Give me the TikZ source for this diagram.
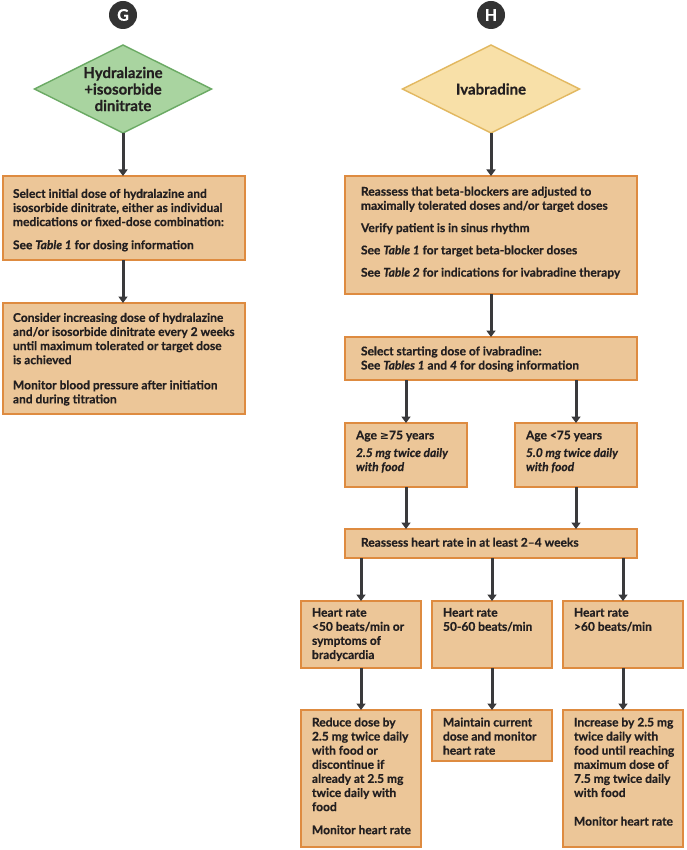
\documentclass[tikz,border=0pt]{standalone}
\usepackage{fontspec}
\setmainfont{Lato}[BoldFeatures={FakeBold=0.5},BoldItalicFeatures={FakeBold=0.5}]
\newfontfamily\symf{DejaVu Sans}
\usetikzlibrary{shapes.geometric,arrows.meta}
\definecolor{boxfill}{RGB}{236,198,152}
\definecolor{boxline}{RGB}{222,139,64}
\definecolor{gfill}{RGB}{169,212,160}
\definecolor{gline}{RGB}{107,170,100}
\definecolor{yfill}{RGB}{248,224,168}
\definecolor{yline}{RGB}{226,184,96}
\definecolor{circ}{RGB}{51,51,51}
\definecolor{arrc}{RGB}{58,58,60}
\definecolor{txt}{RGB}{35,31,32}
% width, height, left pad, top pad, text
\newcommand\bxt[5]{\parbox[c][#2pt][t]{#1pt}{\raggedright\leftskip=#3pt\relax\vspace*{#4pt}\strut#5}}
\newcommand\pg{\\[9pt]}
\begin{document}
\begin{tikzpicture}[x=1pt,y=-1pt,
  font=\fontsize{12}{14.1}\selectfont\bfseries,
  flowbox/.style={draw=boxline,fill=boxfill,line width=1.4pt,inner sep=0pt,outer sep=0pt,anchor=north west,text=txt},
  dia/.style={shape=diamond,inner sep=0pt,outer sep=0pt,line width=1.4pt,minimum width=177pt,minimum height=88pt,aspect=2,align=center,text=txt,font=\fontsize{15}{16.5}\selectfont\bfseries},
  badge/.style={circle,fill=circ,minimum size=28pt,inner sep=0pt,text=white,font=\fontsize{16}{18}\selectfont\bfseries},
  arr/.style={draw=arrc,line width=3pt,-{Triangle[length=6.5pt,width=9pt]}}]
\useasboundingbox (0,0) rectangle (686,850);
\fill[white] (0,0) rectangle (686,850);

\node[badge] (cG) at (123,15) {G};
\node[badge] (cH) at (491,15) {H};

\node[dia,draw=gline,fill=gfill] (dG) at (123,89) {Hydralazine\\+isosorbide\\dinitrate};
\node[dia,draw=yline,fill=yfill] (dH) at (491,89) {Ivabradine};

\node[flowbox] (L1) at (3,176) {\bxt{242}{84}{10}{12}{Select initial dose of hydralazine and\\isosorbide dinitrate, either as individual\\medications or fixed-dose combination:\pg See \textit{Table 1} for dosing information}};
\node[flowbox] (L2) at (3,303) {\bxt{242}{111}{10}{9}{Consider increasing dose of hydralazine\\and/or isosorbide dinitrate every 2 weeks\\until maximum tolerated or target dose\\is achieved\\[11pt]Monitor blood pressure after initiation\\and during titration}};

\node[flowbox] (R1) at (345,176) {\bxt{292}{118}{16}{9.8}{Reassess that beta-blockers are adjusted to\\maximally tolerated doses and/or target doses\\[8.2pt]Verify patient is in sinus rhythm\\[8.2pt]See \textit{Table 1} for target beta-blocker doses\\[8.2pt]See \textit{Table 2} for indications for ivabradine therapy}};
\node[flowbox] (R2) at (345,337) {\bxt{292}{43}{16}{8.5}{Select starting dose of ivabradine:\\See \textit{Tables 1} and \textit{4} for dosing information}};

\node[flowbox] (A1) at (345,423) {\bxt{122}{64}{11}{6.5}{Age {\symf\fontsize{11}{14}\selectfont ≥}75 years\\[3.5pt]\textit{2.5 mg twice daily\\with food}}};
\node[flowbox] (A2) at (515,423) {\bxt{122}{64}{11}{6.5}{Age <75 years\\[3.5pt]\textit{5.0 mg twice daily\\with food}}};

\node[flowbox] (R3) at (345,529) {\bxt{292}{29}{16}{7.8}{Reassess heart rate in at least 2–4 weeks}};

\node[flowbox] (B1) at (301,601) {\bxt{120}{67}{11}{5.8}{Heart rate\\<50 beats/min or\\symptoms of\\bradycardia}};
\node[flowbox] (B2) at (432,601) {\bxt{120}{67}{11}{5.8}{Heart rate\\50-60 beats/min}};
\node[flowbox] (B3) at (563,601) {\bxt{120}{67}{11}{5.8}{Heart rate\\>60 beats/min}};

\node[flowbox] (C1) at (301,710) {\bxt{120}{137}{11}{6.6}{Reduce dose by\\2.5 mg twice daily\\with food or\\discontinue if\\already at 2.5 mg\\twice daily with\\food\pg Monitor heart rate}};
\node[flowbox] (C2) at (432,710) {\bxt{120}{51}{11}{6.6}{Maintain current\\dose and monitor\\heart rate}};
\node[flowbox] (C3) at (563,710) {\bxt{120}{137}{11}{6.6}{Increase by 2.5 mg\\twice daily with\\food until reaching\\maximum dose of\\7.5 mg twice daily\\with food\\[14.5pt]Monitor heart rate}};

\draw[arr] (dG.south) -- (dG.south |- L1.north);
\draw[arr] (L1.south -| dG.south) -- (dG.south |- L2.north);
\draw[arr] (dH.south) -- (R1.north);
\draw[arr] (R1.south) -- (R2.north);
\draw[arr] (R2.south -| A1.north) -- (A1.north);
\draw[arr] (R2.south -| A2.north) -- (A2.north);
\draw[arr] (A1.south) -- (R3.north -| A1.south);
\draw[arr] (A2.south) -- (R3.north -| A2.south);
\draw[arr] (R3.south -| B1.north) -- (B1.north);
\draw[arr] (R3.south -| B2.north) -- (B2.north);
\draw[arr] (R3.south -| B3.north) -- (B3.north);
\draw[arr] (B1.south) -- (C1.north);
\draw[arr] (B2.south) -- (C2.north);
\draw[arr] (B3.south) -- (C3.north);
\end{tikzpicture}
\end{document}
